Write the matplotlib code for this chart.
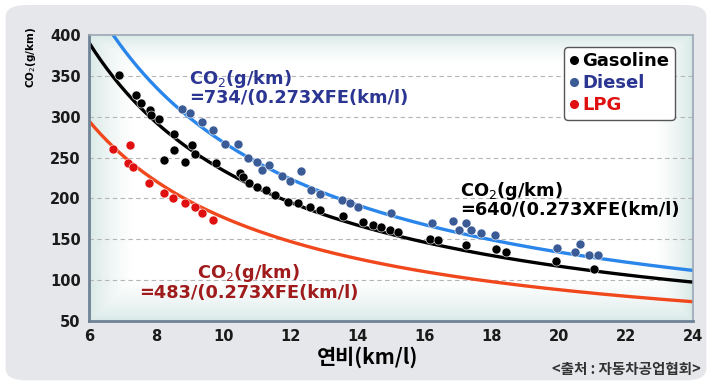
import numpy as np
import matplotlib
matplotlib.use("Agg")
import matplotlib.pyplot as plt
from matplotlib.patches import FancyBboxPatch
from matplotlib.lines import Line2D

plt.rcParams['font.family'] = ['DejaVu Sans', 'Noto Sans CJK KR']

# ---- data ----
fuels = ["Gasoline", "Diesel", "LPG"]
coef = [640, 734, 483]          # numerator of CO2 formula
factor = 0.273

gas_x = [6.89, 7.41, 7.56, 7.81, 7.86, 8.08, 8.23, 8.53, 8.53, 8.87, 9.07, 9.17, 9.78,
         10.5, 10.6, 10.78, 11.0, 11.27, 11.54, 11.94, 12.24, 12.59, 12.88, 13.58, 14.17,
         14.47, 14.72, 14.97, 15.22, 16.16, 16.41, 17.25, 18.13, 18.43, 19.93, 21.05]
gas_y = [351, 327, 317, 308, 302, 297, 247, 279, 259, 245, 265, 254, 243,
         231, 226, 219, 214, 210, 204, 196, 194, 189, 186, 178, 171,
         168, 165, 162, 159, 151, 149, 143, 138, 135, 123, 114]

die_x = [8.78, 9.01, 9.36, 9.7, 10.05, 10.45, 10.75, 11.0, 11.15, 11.37, 11.74, 11.99,
         12.32, 12.63, 12.88, 13.53, 13.78, 14.02, 14.99, 16.23, 16.86, 17.03, 17.25,
         17.4, 17.7, 18.1, 19.96, 20.48, 20.65, 20.91, 21.18]
die_y = [310, 304, 294, 284, 267, 267, 250, 245, 235, 241, 227, 221,
         234, 210, 206, 198, 195, 190, 182, 170, 172, 161, 170,
         161, 158, 155, 139, 135, 144, 131, 131]

lpg_x = [6.72, 7.21, 7.16, 7.31, 7.79, 8.25, 8.5, 8.85, 9.15, 9.36, 9.69]
lpg_y = [261, 266, 243, 238, 219, 207, 200, 194, 190, 182, 174]

x_ticks = [6, 8, 10, 12, 14, 16, 18, 20, 22, 24]
y_ticks = [50, 100, 150, 200, 250, 300, 350, 400]
grid_y = [100, 150, 200, 250, 300, 350]

line_colors = ["#000000", "#2a86ea", "#f0481c"]
dot_colors = ["#000000", "#3a5b95", "#e01010"]
text_colors = ["#000000", "#2b3592", "#e01010"]

fig = plt.figure(figsize=(7.12, 3.85), dpi=100)
fig.patch.set_facecolor("white")
panel = FancyBboxPatch((0.008, 0.012), 0.984, 0.975, boxstyle="round,pad=0,rounding_size=0.03",
                       transform=fig.transFigure, facecolor="#e6e7ea", edgecolor="none", zorder=-5)
fig.patches.append(panel)

ax = fig.add_axes([0.125, 0.166, 0.848, 0.743])
ax.set_zorder(1)
ax.set_xlim(6, 24)
ax.set_ylim(50, 400)

# subtle edge shading in plot area
gx = np.linspace(0, 1, 300)
gy = np.linspace(0, 1, 300)
GX, GY = np.meshgrid(gx, gy)
d = np.minimum.reduce([GX / 0.07, (1 - GX) / 0.06, GY / 0.14, (1 - GY) / 0.10])
d = np.clip(d, 0, 1) ** 0.7
base = np.array([0.84, 0.91, 0.90])
img = (1 - d)[..., None] * base + d[..., None] * np.array([1, 1, 1])
img = img[::-1]
ax.imshow(img, extent=[0, 1, 0, 1], transform=ax.transAxes, aspect='auto', zorder=0)

for g in grid_y:
    ax.axhline(g, color="#b5b5b5", lw=0.8, ls=(0, (4, 3)), zorder=1)

xs = np.linspace(6, 24, 300)
for c, lc in zip(coef, line_colors):
    ax.plot(xs, c / (factor * xs), color=lc, lw=2.4, zorder=2, solid_capstyle='round')

for (px, py), dc in zip([(gas_x, gas_y), (die_x, die_y), (lpg_x, lpg_y)], dot_colors):
    ax.scatter(px, py, s=42, color=dc, zorder=3, edgecolors='white', linewidths=0.4)

ax.set_xticks(x_ticks)
ax.set_yticks(y_ticks)
ax.tick_params(length=0, labelsize=10.5, colors="#1a1a1a", pad=6)
for lab in ax.get_xticklabels() + ax.get_yticklabels():
    lab.set_fontweight("bold")
for sp in ["left", "bottom"]:
    ax.spines[sp].set_color("#6f8296")
    ax.spines[sp].set_linewidth(2.0)
for sp in ["top", "right"]:
    ax.spines[sp].set_color("#9aa8b4")
    ax.spines[sp].set_linewidth(1.2)

ax.set_xlabel("연비(km/l)", fontsize=15, fontweight="bold", family=['Noto Sans CJK KR', 'DejaVu Sans'])
ax.xaxis.set_label_coords(0.462, -0.09)
fig.text(0.043, 0.93, "CO$_2$(g/km)", rotation=90, fontsize=7.5, fontweight="bold",
         ha="center", va="top")

# formula annotations
ax.text(8.98, 360, "CO$_2$(g/km)\n=734/(0.273XFE(km/l)", color="#2b3592", fontsize=12.8,
        fontweight="bold", ha="left", va="top", linespacing=0.95, zorder=4)
ax.text(17.05, 223, "CO$_2$(g/km)\n=640/(0.273XFE(km/l)", color="#000000", fontsize=12.8,
        fontweight="bold", ha="left", va="top", linespacing=0.95, zorder=4)
ax.text(10.75, 122, "CO$_2$(g/km)\n=483/(0.273XFE(km/l)", color="#a01c1c", fontsize=12.8,
        fontweight="bold", ha="center", va="top", linespacing=0.95, zorder=4, multialignment="center")

handles = [Line2D([], [], ls="none", marker="o", markersize=5.5, color=dc) for dc in dot_colors]
leg = ax.legend(handles, fuels, loc="upper right", bbox_to_anchor=(0.985, 0.99), fontsize=13,
                handlelength=0.5, handletextpad=0.2, borderpad=0.3, labelspacing=0.22,
                frameon=True, fancybox=True, edgecolor="#555555", framealpha=1)
leg.get_frame().set_linewidth(1.0)
for t, tc in zip(leg.get_texts(), text_colors):
    t.set_color(tc)
    t.set_fontweight("bold")
leg.set_zorder(5)

fig.text(0.984, 0.02, "<출처 : 자동차공업협회>", fontsize=10.5, fontweight="bold", color="#333333",
         ha="right", va="bottom", family=['Noto Sans CJK KR', 'DejaVu Sans'])

fig.savefig("out.png", dpi=100, facecolor=fig.get_facecolor())
